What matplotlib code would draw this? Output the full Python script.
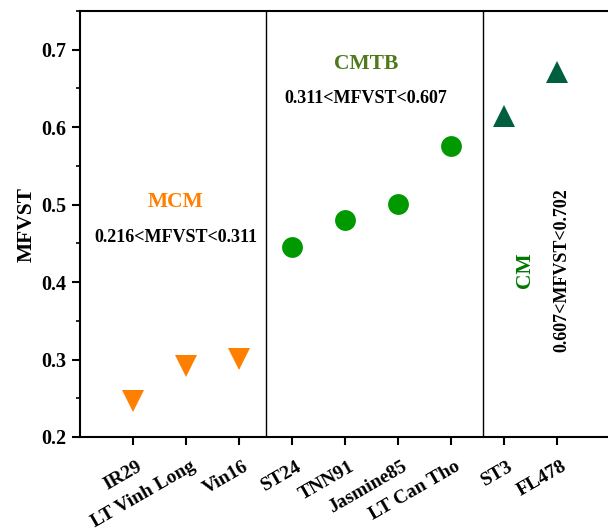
import matplotlib
matplotlib.use("Agg")
import matplotlib.pyplot as plt
import matplotlib.transforms as mtransforms
from matplotlib.ticker import MultipleLocator

plt.rcParams['font.family'] = ['Liberation Serif', 'DejaVu Serif']
plt.rcParams['font.weight'] = 'bold'

# cultivars and their MFVST scores, grouped by class
mcm_names = ["IR29", "LT Vinh Long", "Vin16"]
mcm_vals = [0.247, 0.292, 0.301]
cmtb_names = ["ST24", "TNN91", "Jasmine85", "LT Can Tho"]
cmtb_vals = [0.445, 0.480, 0.501, 0.576]
cm_names = ["ST3", "FL478"]
cm_vals = [0.614, 0.671]

group_labels = ["MCM", "CMTB", "CM"]
group_ranges = ["0.216<MFVST<0.311", "0.311<MFVST<0.607", "0.607<MFVST<0.702"]
dividers = [2.5, 6.6]

names = mcm_names + cmtb_names + cm_names
x_mcm = list(range(len(mcm_names)))
x_cmtb = [len(mcm_names) + i for i in range(len(cmtb_names))]
x_cm = [len(mcm_names) + len(cmtb_names) + i for i in range(len(cm_names))]

fig = plt.figure(figsize=(6.08, 5.32), dpi=100)
ax = fig.add_axes([80 / 608, 95 / 532, 530 / 608, 426 / 532])

ax.plot(x_mcm, mcm_vals, 'v', color='#ff8000', markersize=16, markeredgewidth=0)
ax.plot(x_cmtb, cmtb_vals, 'o', color='#009a00', markersize=15, markeredgewidth=0)
ax.plot(x_cm, cm_vals, '^', color='#005f3f', markersize=16, markeredgewidth=0)

for d in dividers:
    ax.axvline(d, color='black', linewidth=1.0)

ax.set_xlim(-1, 9)
ax.set_ylim(0.2, 0.75)
ax.yaxis.set_major_locator(MultipleLocator(0.1))
ax.yaxis.set_minor_locator(MultipleLocator(0.05))
ax.set_xticks(range(len(names)))
ax.set_xticklabels([])
for lab in ax.get_yticklabels():
    lab.set_fontsize(14.5)
    lab.set_fontweight('bold')

ax.tick_params(axis='both', which='major', direction='out', length=6, width=1.5, pad=4)
ax.tick_params(axis='y', which='minor', direction='out', length=3, width=1.2)
ax.tick_params(axis='x', which='minor', bottom=False)
ax.tick_params(top=False, right=False)
for s in ax.spines.values():
    s.set_linewidth(1.5)
ax.spines['right'].set_visible(False)

# slanted cultivar names under the ticks
name_off = mtransforms.ScaledTranslation(4 / 100, -21 / 100, fig.dpi_scale_trans)
for i, n in enumerate(names):
    ax.text(i, 0, n, transform=ax.get_xaxis_transform() + name_off,
            rotation=30, ha='right', va='top', rotation_mode='anchor',
            fontsize=14, fontweight='bold')

ax.set_ylabel("MFVST", fontsize=15.5, fontweight='bold', labelpad=3)

# class names and ranges
ax.text(0.8, 0.503, group_labels[0], color='#ff8000', fontsize=15.5, ha='center', va='center')
ax.text(0.8, 0.458, group_ranges[0], color='black', fontsize=13, ha='center', va='center')
ax.text(4.4, 0.681, group_labels[1], color='#4e7a1c', fontsize=15.5, ha='center', va='center')
ax.text(4.4, 0.637, group_ranges[1], color='black', fontsize=13, ha='center', va='center')
ax.text(7.4, 0.415, group_labels[2], color='#007800', fontsize=15.5, ha='center', va='center', rotation=90)
ax.text(8.1, 0.415, group_ranges[2], color='black', fontsize=13, ha='center', va='center', rotation=90)

fig.savefig("out.png", dpi=100)
